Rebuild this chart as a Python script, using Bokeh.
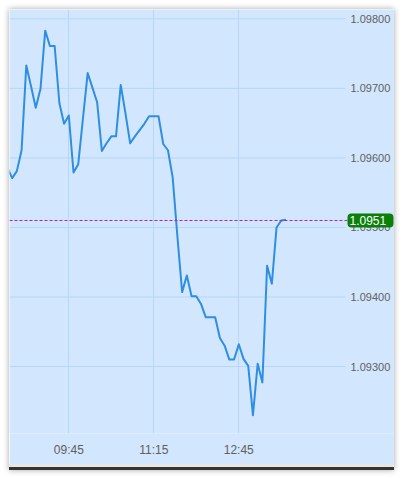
from bokeh.plotting import figure
from bokeh.models import (Range1d, FixedTicker, Label, Div, BoxAnnotation)
from bokeh.layouts import column
from bokeh.embed import file_html
from bokeh.resources import INLINE

times = ["08:40", "08:45", "08:50", "08:55", "09:00", "09:05", "09:10", "09:15", "09:20", "09:25",
         "09:30", "09:35", "09:40", "09:45", "09:50", "09:55", "10:00", "10:05", "10:10", "10:15",
         "10:20", "10:25", "10:30", "10:35", "10:40", "10:45", "10:50", "10:55", "11:00", "11:05",
         "11:10", "11:15", "11:20", "11:25", "11:30", "11:35", "11:40", "11:45", "11:50", "11:55",
         "12:00", "12:05", "12:10", "12:15", "12:20", "12:25", "12:30", "12:35", "12:40", "12:45",
         "12:50", "12:55", "13:00", "13:05", "13:10", "13:15", "13:20", "13:25", "13:30", "13:35"]
prices = [1.09586, 1.09571, 1.09581, 1.09611, 1.09733, 1.09703, 1.09672, 1.09699, 1.09783, 1.09761,
          1.09761, 1.09679, 1.09649, 1.09661, 1.09579, 1.09591, 1.09657, 1.09722, 1.09701, 1.09680,
          1.09610, 1.09621, 1.09631, 1.09631, 1.09705, 1.09664, 1.09621, 1.09631, 1.09640, 1.09649,
          1.09660, 1.09660, 1.09660, 1.09620, 1.09611, 1.09572, 1.09487, 1.09407, 1.09431, 1.09401,
          1.09401, 1.09390, 1.09371, 1.09371, 1.09371, 1.09341, 1.09330, 1.09310, 1.09310, 1.09332,
          1.09311, 1.09301, 1.09230, 1.09304, 1.09277, 1.09445, 1.09419, 1.09500, 1.09510, 1.09511]
y_ticks = [1.093, 1.094, 1.095, 1.096, 1.097, 1.098]
y_tick_labels = ["1.09300", "1.09400", "1.09500", "1.09600", "1.09700", "1.09800"]
x_tick_labels = ["09:45", "11:15", "12:45"]
last_price = 1.0951
last_label = "1.0951"


def to_min(t):
    h, m = t.split(":")
    return int(h) * 60 + int(m)


xs = [to_min(t) for t in times]
x_ticks = [to_min(t) for t in x_tick_labels]

X_START, X_PLOT_END, X_END = 522.2, 878.0, 929.9
Y_START, Y_END = 1.092037, 1.098134

BG = "#d2e7fd"
GRID = "#b5d7f9"
TXT = "#606060"
GREEN = "#0a7f0a"

p = figure(frame_width=385, frame_height=424, output_backend="svg", toolbar_location=None,
           x_range=Range1d(X_START, X_END), y_range=Range1d(Y_START, Y_END),
           x_axis_location="below", y_axis_location=None,
           min_border_left=0, min_border_top=0, min_border_right=0, min_border_bottom=31)
p.background_fill_color = BG
p.border_fill_color = BG
p.outline_line_color = None

ax = p.xaxis[0]
ax.ticker = FixedTicker(ticks=x_ticks)
ax.major_label_overrides = {k: v for k, v in zip(x_ticks, x_tick_labels)}
ax.axis_line_color = None
ax.major_tick_line_color = None
ax.minor_tick_line_color = None
ax.major_label_text_color = TXT
ax.major_label_text_font = "Liberation Sans"
ax.major_label_text_font_size = "12px"
ax.major_label_standoff = 3

p.xgrid.ticker = FixedTicker(ticks=x_ticks)
p.xgrid.grid_line_color = GRID
p.ygrid.visible = False

# horizontal grid lines stop where the price scale begins
p.segment(x0=[X_START] * len(y_ticks), y0=y_ticks, x1=[X_PLOT_END] * len(y_ticks), y1=y_ticks,
          line_color=GRID, line_width=1)
# price scale labels on the right
p.text(x=[X_PLOT_END] * len(y_ticks), y=y_ticks, text=y_tick_labels, x_offset=5,
       text_align="left", text_baseline="middle", text_color=TXT,
       text_font={"value": "Liberation Sans"}, text_font_size="11px")

p.line(xs, prices, line_color="#2e8ee2", line_width=2, line_join="round")

p.segment(x0=[X_START], y0=[last_price], x1=[X_PLOT_END + 2], y1=[last_price],
          line_color="#b020c8", line_dash="3 2", line_width=1)

# last-price tag on the price scale
half_h = (Y_END - Y_START) / 424 * 7
p.add_layout(BoxAnnotation(left=338, right=384, left_units="screen", right_units="screen",
                           top=last_price + half_h, bottom=last_price - half_h,
                           fill_color=GREEN, fill_alpha=1.0, line_color=None, border_radius=4))
p.add_layout(Label(x=340, y=last_price, x_units="screen", y_units="data", text=last_label,
                   text_color="white", text_font="Liberation Sans", text_font_size="12px",
                   text_align="left", text_baseline="middle"))

bottom = Div(width=385, height=6, margin=0, styles={
    "background": "linear-gradient(#e6e6e6 0, #e6e6e6 50%, #333333 50%, #333333 100%)"})

layout = column(p, bottom, spacing=0, margin=(9, 0, 0, 9),
                styles={"box-shadow": "0 0 6px rgba(0,0,0,0.35)"})

open("out.html", "w").write(file_html(layout, INLINE))
